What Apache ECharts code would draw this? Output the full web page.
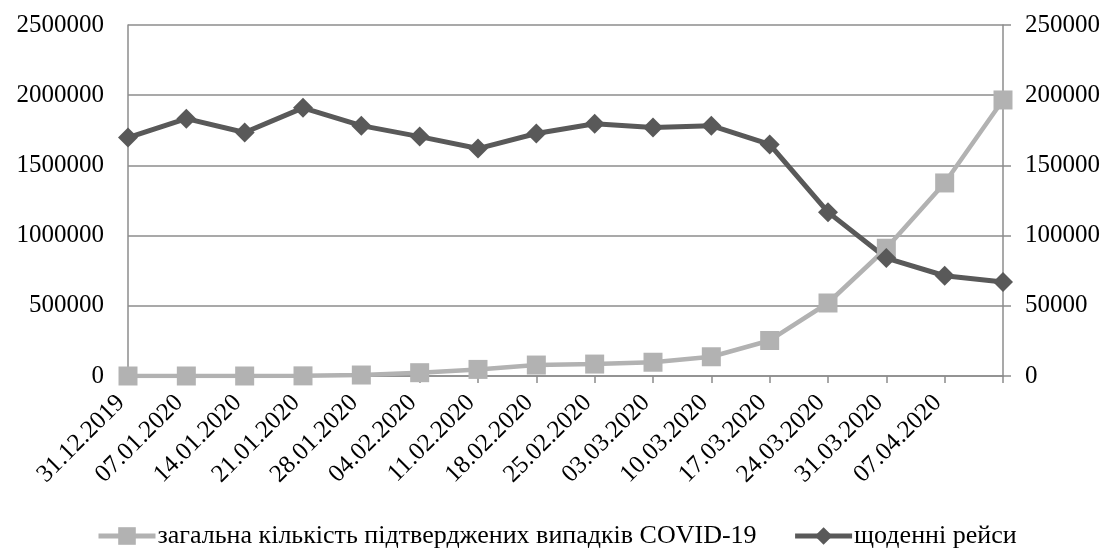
<!DOCTYPE html>
<html>
<head>
<meta charset="utf-8">
<script src="https://cdn.jsdelivr.net/npm/echarts@6/dist/echarts.min.js"></script>
<style>
  html, body { margin: 0; padding: 0; background: #fff; }
  #chart { width: 1109px; height: 551px; }
</style>
</head>
<body>
<div id="chart"></div>
<script>
var dates = ['31.12.2019', '07.01.2020', '14.01.2020', '21.01.2020', '28.01.2020',
  '04.02.2020', '11.02.2020', '18.02.2020', '25.02.2020', '03.03.2020',
  '10.03.2020', '17.03.2020', '24.03.2020', '31.03.2020', '07.04.2020', ''];

// загальна кількість випадків (ліва вісь)
var cases = [0, 0, 0, 1000, 7000, 23500, 47000, 78000, 85000, 98000,
  137000, 253000, 520000, 910000, 1375000, 1966000];

// щоденні рейси (права вісь)
var flights = [169800, 183300, 173400, 191000, 178300, 170500, 162000, 172700,
  179700, 177000, 178300, 164900, 116700, 84000, 71400, 67000];

var leftTicks = { min: 0, max: 2500000, step: 500000 };
var rightTicks = { min: 0, max: 250000, step: 50000 };

var font = 'Liberation Serif';
var gridColor = '#8c8c8c';

function plain(v) { return String(v); }

var chart = echarts.init(document.getElementById('chart'));

chart.setOption({
  animation: false,
  textStyle: { fontFamily: font },
  grid: { left: 128, right: 106, top: 25, bottom: 175 },
  legend: {
    bottom: -3,
    left: 91,
    itemWidth: 57,
    itemHeight: 22,
    itemGap: 36,
    lineStyle: { width: 5 },
    textStyle: { fontFamily: font, fontSize: 26, color: '#000', padding: [0, 0, 0, -3] },
    data: ['загальна кількість підтверджених випадків COVID-19', 'щоденні рейси']
  },
  xAxis: {
    type: 'category',
    data: dates,
    boundaryGap: false,
    axisLine: { lineStyle: { color: gridColor, width: 1.5 } },
    axisTick: { show: true, length: 7, lineStyle: { color: gridColor, width: 1.5 } },
    axisLabel: {
      interval: 0,
      rotate: 45,
      margin: 16,
      padding: [0, 10, 0, 0],
      fontFamily: font,
      fontSize: 25,
      color: '#000'
    }
  },
  yAxis: [{
    type: 'value',
    min: leftTicks.min,
    max: leftTicks.max,
    interval: leftTicks.step,
    axisLine: { show: true, lineStyle: { color: gridColor, width: 1.5 } },
    axisTick: { show: false },
    splitLine: { lineStyle: { color: gridColor, width: 1.5 } },
    axisLabel: { margin: 24, fontFamily: font, fontSize: 25, color: '#000', formatter: plain }
  }, {
    type: 'value',
    position: 'right',
    min: rightTicks.min,
    max: rightTicks.max,
    interval: rightTicks.step,
    axisLine: { show: true, lineStyle: { color: gridColor, width: 1.5 } },
    axisTick: { show: true, length: 8, lineStyle: { color: gridColor, width: 1.5 } },
    splitLine: { show: false },
    axisLabel: { margin: 22, fontFamily: font, fontSize: 25, color: '#000', formatter: plain }
  }],
  series: [{
    name: 'загальна кількість підтверджених випадків COVID-19',
    type: 'line',
    yAxisIndex: 0,
    data: cases,
    symbol: 'rect',
    symbolSize: 19,
    color: '#b2b2b2',
    itemStyle: { color: '#b2b2b2' },
    lineStyle: { color: '#b2b2b2', width: 4.5 }
  }, {
    name: 'щоденні рейси',
    type: 'line',
    yAxisIndex: 1,
    data: flights,
    symbol: 'diamond',
    symbolSize: 20,
    color: '#595959',
    itemStyle: { color: '#595959' },
    lineStyle: { color: '#595959', width: 5 }
  }]
});
</script>
</body>
</html>
